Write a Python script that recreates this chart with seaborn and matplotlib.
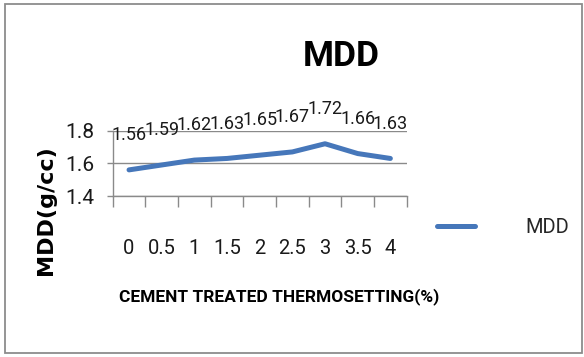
import matplotlib
matplotlib.use("Agg")
import matplotlib.pyplot as plt
from matplotlib.patches import Rectangle
from matplotlib.ticker import FixedLocator
import seaborn as sns
import pandas as pd

# Thermosetting content (%) and maximum dry density (g/cc)
thermosetting_pct = ["0", "0.5", "1", "1.5", "2", "2.5", "3", "3.5", "4"]
mdd_values = [1.56, 1.59, 1.62, 1.63, 1.65, 1.67, 1.72, 1.66, 1.63]
y_ticks = [1.4, 1.6, 1.8]

df = pd.DataFrame({"pct": thermosetting_pct, "MDD": mdd_values})

sns.set_theme(style="white")
plt.rcParams["font.family"] = ["Roboto", "DejaVu Sans"]

W, H = 584, 357
fig = plt.figure(figsize=(W / 100, H / 100), dpi=100)
fig.patch.set_facecolor("white")

# outer chart frame
fig.add_artist(Rectangle((5 / W, 4 / H), (582 - 5) / W, (353 - 4) / H,
                         transform=fig.transFigure, fill=False,
                         edgecolor="#8c8c8c", linewidth=1.3))

ax = fig.add_axes([112.7 / W, (H - 196) / H, (406.7 - 112.7) / W, (196 - 130.7) / H])
line_color = "#4677BA"
sns.lineplot(data=df, x="pct", y="MDD", ax=ax, color=line_color,
             linewidth=3.6, sort=False, label="MDD", legend=False)

ax.set_xlim(-0.5, len(thermosetting_pct) - 0.5)
ax.set_ylim(1.4, 1.8)
ax.set_yticks(y_ticks)
ax.set_yticklabels([f"{v:.1f}" for v in y_ticks])
ax.yaxis.grid(True, color="#8a8a8a", linewidth=1.0)
ax.xaxis.grid(False)

for side in ["top", "right"]:
    ax.spines[side].set_visible(False)
for side in ["left", "bottom"]:
    ax.spines[side].set_color("#8a8a8a")
    ax.spines[side].set_linewidth(1.0)

# category labels centred, tick marks on category boundaries
ax.xaxis.set_minor_locator(FixedLocator([i - 0.5 for i in range(len(thermosetting_pct) + 1)]))
ax.tick_params(axis="x", which="major", length=0, pad=31, labelsize=14.5, labelcolor="#1a1a1a")
ax.tick_params(axis="x", which="minor", length=7.7, width=1.0, color="#8a8a8a", direction="out")
ax.tick_params(axis="y", which="major", length=4.3, width=1.0, color="#8a8a8a",
               direction="out", pad=9, labelsize=15, labelcolor="#1a1a1a")
ax.tick_params(left=True, bottom=True)
ax.tick_params(axis="x", which="minor", bottom=True)

ax.set_xlabel("")
ax.set_ylabel("")

# data labels above each point
for i, v in enumerate(mdd_values):
    ax.annotate(f"{v:.2f}", xy=(i, v), xytext=(0, 25), textcoords="offset points",
                ha="center", va="center", fontsize=13, color="#1a1a1a",
                annotation_clip=False)

fig.text(341 / W, 1 - 57 / H, "MDD", ha="center", va="center",
         fontsize=25.5, fontweight="bold", color="black")
fig.text(46 / W, 1 - 210 / H, "MDD(g/cc)", rotation=90, ha="center", va="center",
         fontsize=16, fontweight="bold", family=["DejaVu Sans"], color="black")
fig.text(279.5 / W, 1 - 297 / H, "CEMENT TREATED THERMOSETTING(%)", ha="center",
         va="center", fontsize=12.5, fontweight="bold", color="black")

handles, labels = ax.get_lines(), ["MDD"]
fig.legend(handles[:1], labels, loc="center left",
           bbox_to_anchor=(437 / W, 1 - 228 / H), bbox_transform=fig.transFigure,
           frameon=False, fontsize=14.5, handlelength=1.9, handletextpad=2.5,
           borderpad=0, borderaxespad=0)

fig.savefig("out.png", dpi=100, facecolor="white")
